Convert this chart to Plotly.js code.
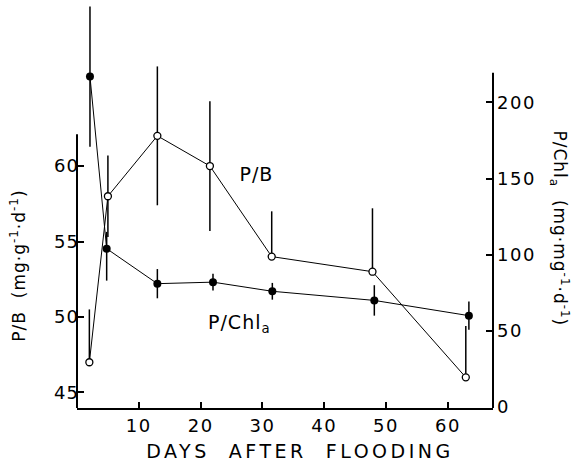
<!DOCTYPE html>
<html>
<head>
<meta charset="utf-8">
<script src="https://cdn.plot.ly/plotly-3.0.1.min.js"></script>
<style>
html,body{margin:0;padding:0;background:#fff;}
#chart{width:576px;height:464px;}
#chart .xtick text, #chart .y2tick text {letter-spacing:1.5px;}
#chart .ytick text {letter-spacing:1px;}
#chart .g-xtitle text {letter-spacing:3.5px; transform:translateX(15px);}
#chart .annotation-text {letter-spacing:1px;}
</style>
</head>
<body>
<div id="chart"></div>
<script>
// Data
const daysPB = [2.0, 5.0, 13.0, 21.5, 31.5, 47.8, 62.9];
const pbValues = [47.0, 58.0, 62.0, 60.0, 54.0, 53.0, 46.0];
const pbErrPlus = [3.5, 2.7, 4.6, 4.3, 3.0, 4.2, 3.4];
const pbErrMinus = [0, 2.7, 4.6, 4.3, 0, 0, 0];

const daysChl = [2.1, 4.8, 13.0, 22.0, 31.6, 48.1, 63.4];
const chlValues = [217, 104, 81, 82, 76, 70, 60];
const chlErrPlus = [46, 11, 9.6, 5.5, 5.5, 10, 9.3];
const chlErrMinus = [46, 21, 9.6, 5.5, 5.5, 10, 9.3];

const xTicks = [10, 20, 30, 40, 50, 60];
const leftTicks = [45, 50, 55, 60];
const rightTicks = [0, 50, 100, 150, 200];

const FONT = 'DejaVu Sans, sans-serif';
const leftRange = [43.97, 71.0];
const rightRange = [-0.65, 267.3];
const leftAxisTop = 62.1;
const rightAxisTop = 219.6;

const traces = [
  {
    x: daysChl, y: chlValues, yaxis: 'y2', type: 'scatter', mode: 'lines+markers',
    line: {color: '#000', width: 1},
    marker: {symbol: 'circle', size: 8, color: '#000'},
    error_y: {type: 'data', symmetric: false, array: chlErrPlus, arrayminus: chlErrMinus,
              width: 0, thickness: 1.5, color: '#000'},
    cliponaxis: false, showlegend: false
  },
  {
    x: daysPB, y: pbValues, yaxis: 'y', type: 'scatter', mode: 'lines+markers',
    line: {color: '#000', width: 1},
    marker: {symbol: 'circle', size: 7, color: '#fff', line: {color: '#000', width: 1.3}},
    error_y: {type: 'data', symmetric: false, array: pbErrPlus, arrayminus: pbErrMinus,
              width: 0, thickness: 1.5, color: '#000'},
    cliponaxis: false, showlegend: false
  }
];

const layout = {
  width: 576, height: 464,
  margin: {l: 77, r: 83, t: 0, b: 56},
  paper_bgcolor: '#fff', plot_bgcolor: '#fff',
  font: {family: FONT, size: 18, color: '#000'},
  showlegend: false,
  xaxis: {
    range: [0, 67.3], showgrid: false, zeroline: false,
    showline: true, linecolor: '#000', linewidth: 2,
    ticks: 'inside', ticklen: 6, tickwidth: 2, tickcolor: '#000',
    tickvals: xTicks, ticktext: xTicks.map(String),
    tickfont: {family: FONT, size: 18},
    title: {text: 'DAYS  AFTER  FLOODING', font: {family: FONT, size: 19}, standoff: 10}
  },
  yaxis: {
    range: leftRange, showgrid: false, zeroline: false, showline: false,
    ticks: 'inside', ticklen: 7, tickwidth: 2, tickcolor: '#000',
    tickvals: leftTicks, ticktext: leftTicks.map(String),
    tickfont: {family: FONT, size: 18}, ticklabelstandoff: -3
  },
  yaxis2: {
    range: rightRange, overlaying: 'y', side: 'right',
    showgrid: false, zeroline: false, showline: false,
    ticks: 'inside', ticklen: 7, tickwidth: 2, tickcolor: '#000',
    tickvals: rightTicks, ticktext: rightTicks.map(String),
    tickfont: {family: FONT, size: 18}, ticklabelstandoff: 3
  },
  shapes: [
    {type: 'line', xref: 'paper', yref: 'y', x0: 0, x1: 0, y0: leftRange[0], y1: leftAxisTop,
     line: {color: '#000', width: 2}},
    {type: 'line', xref: 'paper', yref: 'y2', x0: 1, x1: 1, y0: rightRange[0], y1: rightAxisTop,
     line: {color: '#000', width: 2}}
  ],
  annotations: [
    {xref: 'x', yref: 'y', x: 29.1, y: 59.5, text: 'P/B', showarrow: false,
     font: {family: FONT, size: 19}},
    {xref: 'x', yref: 'y2', x: 26.3, y: 55, text: 'P/Chl<sub>a</sub>', showarrow: false,
     font: {family: FONT, size: 19}},
    {xref: 'paper', yref: 'paper', x: -0.142, y: 0.35, xanchor: 'center', yanchor: 'middle',
     text: 'P/B  (mg·g<sup>-1</sup>·d<sup>-1</sup>)', textangle: -90, showarrow: false,
     font: {family: FONT, size: 17}},
    {xref: 'paper', yref: 'paper', x: 1.16, y: 0.44, xanchor: 'center', yanchor: 'middle',
     text: 'P/Chl<sub>a</sub>  (mg·mg<sup>-1</sup>·d<sup>-1</sup>)', textangle: 90, showarrow: false,
     font: {family: FONT, size: 17}}
  ]
};

Plotly.newPlot('chart', traces, layout, {displayModeBar: false, staticPlot: true});
</script>
</body>
</html>
